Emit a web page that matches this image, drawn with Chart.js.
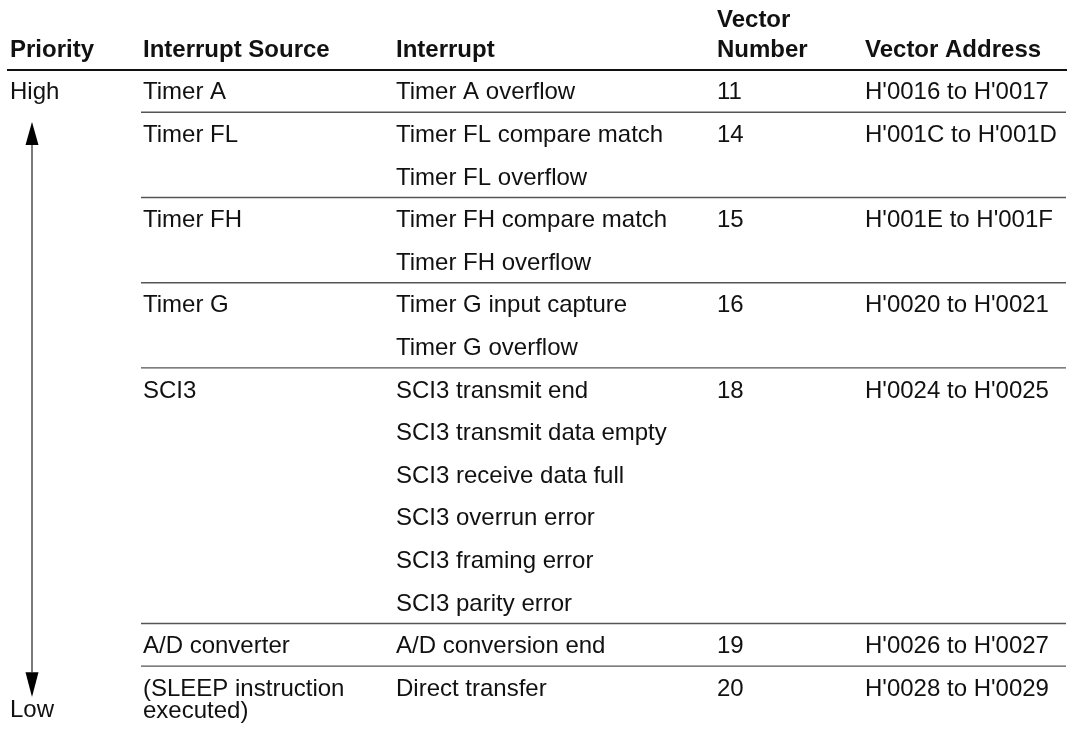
<!DOCTYPE html>
<html>
<head>
<meta charset="utf-8">
<script src="https://cdn.jsdelivr.net/npm/chart.js@4.4.1/dist/chart.umd.min.js"></script>
<style>
  html, body { margin: 0; padding: 0; background: #fff; }
  #wrap { width: 1069px; height: 735px; }
</style>
</head>
<body>
<div id="wrap"><canvas id="tableChart" width="1069" height="735"></canvas></div>
<script>
// Table content
const headers = ['Priority', 'Interrupt Source', 'Interrupt', 'Vector\nNumber', 'Vector Address'];
const priorityLabels = ['High', 'Low'];
const sources = ['Timer A', 'Timer FL', 'Timer FH', 'Timer G', 'SCI3', 'A/D converter', '(SLEEP instruction\nexecuted)'];
const interrupts = [
  ['Timer A overflow'],
  ['Timer FL compare match', 'Timer FL overflow'],
  ['Timer FH compare match', 'Timer FH overflow'],
  ['Timer G input capture', 'Timer G overflow'],
  ['SCI3 transmit end', 'SCI3 transmit data empty', 'SCI3 receive data full',
   'SCI3 overrun error', 'SCI3 framing error', 'SCI3 parity error'],
  ['A/D conversion end'],
  ['Direct transfer']
];
const vectorNumbers = [11, 14, 15, 16, 18, 19, 20];
const vectorAddresses = ["H'0016 to H'0017", "H'001C to H'001D", "H'001E to H'001F",
  "H'0020 to H'0021", "H'0024 to H'0025", "H'0026 to H'0027", "H'0028 to H'0029"];

// Layout (x in px units, y in row units)
const colX = [10, 143, 396, 717, 865];
const arrowX = 32;
const lineLeft = 141, lineRight = 1066;
const rowPx = 42.6, firstRowPx = 99.3;
const yMin = -firstRowPx / rowPx;
const yMax = yMin + 735 / rowPx;

// start row of each group
const groupStart = [];
let r = 0;
interrupts.forEach(g => { groupStart.push(r); r += g.length; });
const lastRow = r - 1;

// separators after each group except the last
const separators = groupStart.slice(1).map(s => s - 1 + 0.305);

const datasets = [];
// header rule
datasets.push({
  data: [{ x: 7, y: -0.688 }, { x: 1067, y: -0.688 }],
  borderColor: '#111', borderWidth: 2
});
separators.forEach(v => {
  datasets.push({
    data: [{ x: lineLeft, y: v }, { x: lineRight, y: v }],
    borderColor: '#555', borderWidth: 1.4
  });
});
// priority arrow shaft
datasets.push({
  data: [{ x: arrowX, y: 1.05 }, { x: arrowX, y: lastRow - 0.55 }],
  borderColor: '#444', borderWidth: 1.4
});

function multiline(ctx, text, px, py, gap) {
  text.split('\n').forEach((t, j) => ctx.fillText(t, px, py + j * gap));
}

const tablePlugin = {
  id: 'tableText',
  afterDatasetsDraw(chart) {
    const { ctx, scales: { x, y } } = chart;
    ctx.save();
    ctx.fillStyle = '#111';
    ctx.textBaseline = 'alphabetic';
    ctx.textAlign = 'left';

    // headers
    ctx.font = 'bold 24px "Liberation Sans", Arial, sans-serif';
    headers.forEach((h, i) => {
      const lines = h.split('\n');
      lines.forEach((t, j) => {
        const v = -1 - (lines.length - 1 - j) * 0.7;
        ctx.fillText(t, x.getPixelForValue(colX[i]), y.getPixelForValue(v));
      });
    });

    // body
    ctx.font = '24px "Liberation Sans", Arial, sans-serif';
    ctx.fillText(priorityLabels[0], x.getPixelForValue(colX[0]), y.getPixelForValue(0));
    ctx.fillText(priorityLabels[1], x.getPixelForValue(colX[0]), y.getPixelForValue(lastRow + 0.5));

    sources.forEach((s, g) => {
      const row = groupStart[g];
      multiline(ctx, s, x.getPixelForValue(colX[1]), y.getPixelForValue(row), 22.5);
      interrupts[g].forEach((t, k) => {
        ctx.fillText(t, x.getPixelForValue(colX[2]), y.getPixelForValue(row + k));
      });
      ctx.fillText(String(vectorNumbers[g]), x.getPixelForValue(colX[3]), y.getPixelForValue(row));
      ctx.fillText(vectorAddresses[g], x.getPixelForValue(colX[4]), y.getPixelForValue(row));
    });

    // arrow heads
    const ax = x.getPixelForValue(arrowX);
    const hw = 6.5;
    ctx.fillStyle = '#000';
    ctx.beginPath();
    ctx.moveTo(ax, y.getPixelForValue(0.533));
    ctx.lineTo(ax + hw, y.getPixelForValue(1.07));
    ctx.lineTo(ax - hw, y.getPixelForValue(1.07));
    ctx.closePath();
    ctx.fill();
    ctx.beginPath();
    ctx.moveTo(ax, y.getPixelForValue(lastRow + 0.03));
    ctx.lineTo(ax + hw, y.getPixelForValue(lastRow - 0.55));
    ctx.lineTo(ax - hw, y.getPixelForValue(lastRow - 0.55));
    ctx.closePath();
    ctx.fill();
    ctx.restore();
  }
};

new Chart(document.getElementById('tableChart'), {
  type: 'scatter',
  data: { datasets: datasets },
  options: {
    responsive: false,
    animation: false,
    layout: { padding: 0 },
    datasets: {
      scatter: { showLine: true, pointRadius: 0, fill: false, tension: 0 }
    },
    plugins: {
      legend: { display: false },
      tooltip: { enabled: false }
    },
    scales: {
      x: { type: 'linear', display: false, min: 0, max: 1069 },
      y: { type: 'linear', display: false, min: yMin, max: yMax, reverse: true }
    }
  },
  plugins: [tablePlugin]
});
</script>
</body>
</html>
